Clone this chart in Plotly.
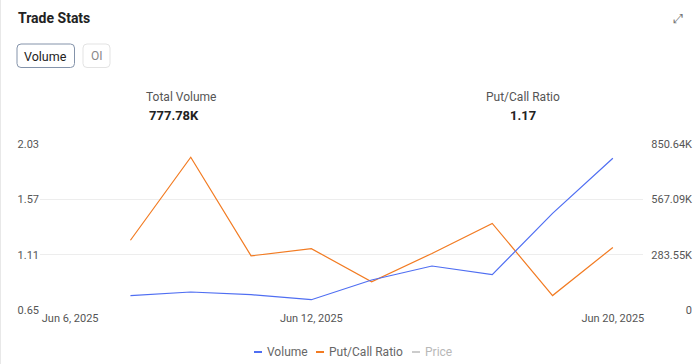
import plotly.graph_objects as go

# ---- data ----
categories = ["2025-06-06", "2025-06-09", "2025-06-10", "2025-06-11", "2025-06-12",
              "2025-06-13", "2025-06-16", "2025-06-17", "2025-06-18", "2025-06-20"]
tick_cats = ["2025-06-06", "2025-06-12", "2025-06-20"]
tick_labels = ["Jun 6, 2025", "Jun 12, 2025", "Jun 20, 2025"]
volume = [None, 73300, 92200, 78400, 52800, 153700, 225500, 180900, 495000, 777780]
put_call = [None, 1.23, 1.92, 1.10, 1.16, 0.885, 1.12, 1.37, 0.77, 1.17]
price = []
series_names = ["Volume", "Put/Call Ratio", "Price"]
left_ticks = [0.65, 1.11, 1.57, 2.03]
left_tick_text = ["0.65", "1.11", "1.57", "2.03"]
right_ticks = [0, 283550, 567090, 850640]
right_tick_text = ["0", "283.55K", "567.09K", "850.64K"]
total_volume_text = "777.78K"
pc_ratio_text = "1.17"

BLUE = "#4f6ef2"
ORANGE = "#f27b22"
GRAY = "#cccccc"
FONT = "Roboto"

W, H = 700, 364
ML, MR, MT, MB = 40, 6, 144, 54
PW = W - ML - MR
PH = H - MT - MB


def X(px):
    return (px - ML) / PW


def Y(py):
    return (H - MB - py) / PH


fig = go.Figure()
fig.add_trace(go.Scatter(x=categories, y=volume, name=series_names[0], yaxis="y2",
                         mode="lines", line=dict(color=BLUE, width=1.2),
                         showlegend=False))
fig.add_trace(go.Scatter(x=categories, y=put_call, name=series_names[1], yaxis="y",
                         mode="lines", line=dict(color=ORANGE, width=1.2),
                         showlegend=False))
fig.add_trace(go.Scatter(x=categories[:len(price)], y=price, name=series_names[2],
                         mode="lines", line=dict(color=GRAY, width=1.2),
                         showlegend=False, visible="legendonly"))


def rrect(x0, y0, x1, y1, r):
    return (f"M {X(x0+r)},{Y(y0)} L {X(x1-r)},{Y(y0)} Q {X(x1)},{Y(y0)} {X(x1)},{Y(y0+r)} "
            f"L {X(x1)},{Y(y1-r)} Q {X(x1)},{Y(y1)} {X(x1-r)},{Y(y1)} "
            f"L {X(x0+r)},{Y(y1)} Q {X(x0)},{Y(y1)} {X(x0)},{Y(y1-r)} "
            f"L {X(x0)},{Y(y0+r)} Q {X(x0)},{Y(y0)} {X(x0+r)},{Y(y0)} Z")


shapes = [
    dict(type="path", xref="paper", yref="paper", path=rrect(17, 44, 74.5, 67.5, 4),
         line=dict(color="#8493aa", width=1), fillcolor="white"),
    dict(type="path", xref="paper", yref="paper", path=rrect(83, 44, 110, 67.5, 4),
         line=dict(color="#e3e3e3", width=1), fillcolor="white"),
    dict(type="line", xref="paper", yref="paper", x0=X(0.5), x1=X(0.5), y0=Y(0), y1=Y(H),
         line=dict(color="#e8e8e8", width=1)),
]

annotations = [
    dict(x=X(16), y=Y(18), text="<b>Trade Stats</b>", xanchor="left", yanchor="middle",
         font=dict(size=14, color="#222222", family=FONT)),
    dict(x=X(45.5), y=Y(56), text="Volume", xanchor="center", yanchor="middle",
         font=dict(size=12.5, color="#222222", family=FONT)),
    dict(x=X(96.5), y=Y(56), text="OI", xanchor="center", yanchor="middle",
         font=dict(size=12, color="#888888", family=FONT)),
    dict(x=X(678), y=Y(18), text="⤢", xanchor="center", yanchor="middle",
         font=dict(size=13, color="#777777", family="DejaVu Sans")),
    dict(x=X(180.5), y=Y(97), text="Total Volume", xanchor="center", yanchor="middle",
         font=dict(size=12, color="#555555", family=FONT)),
    dict(x=X(174), y=Y(115.5), text=f"<b>{total_volume_text}</b>", xanchor="center",
         yanchor="middle", font=dict(size=13, color="#222222", family=FONT)),
    dict(x=X(523), y=Y(97), text="Put/Call Ratio", xanchor="center", yanchor="middle",
         font=dict(size=12, color="#555555", family=FONT)),
    dict(x=X(523), y=Y(115.5), text=f"<b>{pc_ratio_text}</b>", xanchor="center",
         yanchor="middle", font=dict(size=13, color="#222222", family=FONT)),
]

# legend row (ECharts-style compact legend)
legend_items = [(series_names[0], BLUE, "#666666", 254),
                (series_names[1], ORANGE, "#666666", 316),
                (series_names[2], GRAY, "#b8b8b8", 412)]
for nm, col, tcol, gx in legend_items:
    shapes.append(dict(type="line", xref="paper", yref="paper", x0=X(gx), x1=X(gx + 8),
                       y0=Y(352), y1=Y(352), line=dict(color=col, width=2)))
    annotations.append(dict(x=X(gx + 11), y=Y(352), text=nm, xanchor="left",
                            yanchor="middle", font=dict(size=12, color=tcol, family=FONT)))

for a in annotations:
    a.update(xref="paper", yref="paper", showarrow=False)

fig.update_layout(
    width=W, height=H,
    margin=dict(l=ML, r=MR, t=MT, b=MB, autoexpand=False),
    paper_bgcolor="white", plot_bgcolor="white",
    font=dict(family=FONT, size=11, color="#555555"),
    showlegend=False,
    xaxis=dict(type="category", categoryorder="array", categoryarray=categories,
               range=[-0.5, len(categories) - 0.5], domain=[0, (643 - ML) / PW],
               tickvals=tick_cats, ticktext=tick_labels, showgrid=False,
               zeroline=False, showline=False, ticks="",
               tickfont=dict(size=11, color="#555555")),
    yaxis=dict(range=[left_ticks[0], left_ticks[-1]], tickvals=left_ticks,
               ticktext=left_tick_text, showgrid=True, gridcolor="#ededed",
               gridwidth=1, zeroline=False, showline=False, ticks="",
               tickfont=dict(size=11, color="#555555")),
    yaxis2=dict(range=[right_ticks[0], right_ticks[-1]], tickvals=right_ticks,
                ticktext=right_tick_text, overlaying="y", anchor="free",
                position=X(692), side="left", showgrid=False, zeroline=False,
                showline=False, ticks="", tickfont=dict(size=11, color="#555555")),
    shapes=shapes,
    annotations=annotations,
    hovermode=False,
)

fig.write_html("out.html", config={"displayModeBar": False},
               post_script="document.body.style.margin='0';")
